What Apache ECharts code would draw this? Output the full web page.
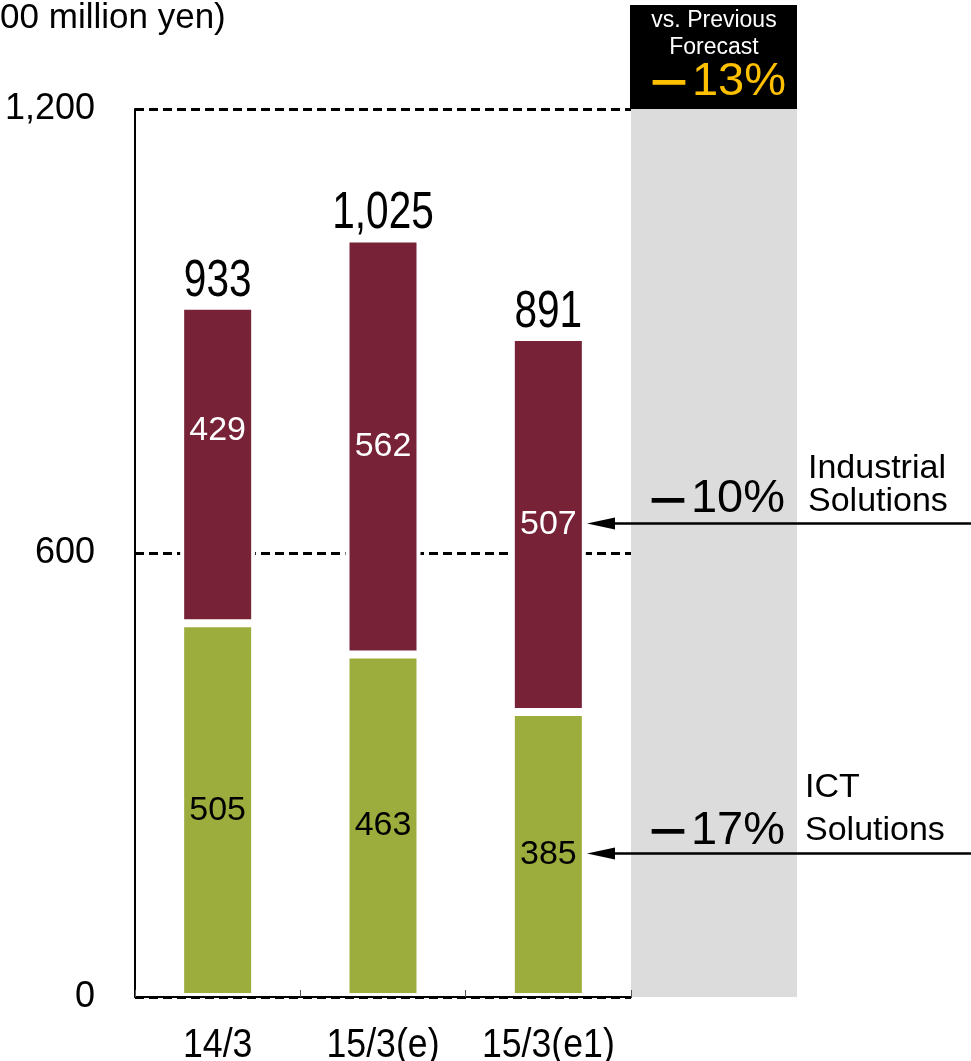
<!DOCTYPE html>
<html>
<head>
<meta charset="utf-8">
<script src="https://cdn.jsdelivr.net/npm/echarts@6/dist/echarts.min.js"></script>
<style>html,body{margin:0;padding:0;background:#fff}#c{width:971px;height:1061px}</style>
</head>
<body>
<div id="c"></div>
<script>
const categories = ['14/3', '15/3(e)', '15/3(e1)'];
const ictValues = [505, 463, 385];
const industrialValues = [429, 562, 507];
const totals = [933, 1025, 891];
const yTicks = [0, 600, 1200];
const changeIndustrial = '10%';
const changeICT = '17%';
const changeTotal = '13%';

const SANS = "'Liberation Sans', Arial, sans-serif";
const CJK = "'Noto Sans CJK JP', sans-serif";
const MAROON = '#772237';
const GREEN = '#9cad3d';

const chart = echarts.init(document.getElementById('c'));
chart.setOption({
  animation: false,
  grid: { left: 135, right: 340, top: 109, bottom: 64 },
  xAxis: {
    type: 'category',
    data: categories,
    axisLine: { show: true, lineStyle: { color: '#000', width: 2 } },
    axisTick: { show: true, inside: true, interval: 0, length: 7, lineStyle: { color: '#555', width: 1 } },
    axisLabel: { show: false, interval: 0 },
    z: 5
  },
  yAxis: {
    type: 'value',
    min: 0, max: 1200, interval: 600,
    axisLine: { show: true, lineStyle: { color: '#000', width: 2 } },
    axisTick: { show: false },
    axisLabel: {
      color: '#000', fontFamily: SANS, fontSize: 36, margin: 40,
      formatter: v => yTicks.includes(v) ? v.toLocaleString('en-US') : ''
    },
    splitLine: { show: true, lineStyle: { color: '#000', width: 3, type: [9, 5] } }
  },
  series: [
    {
      name: 'ICT Solutions', type: 'bar', stack: 'a', barWidth: 75,
      data: ictValues,
      itemStyle: { color: GREEN, borderColor: '#fff', borderWidth: 4 },
      label: { show: true, position: 'inside', color: '#000', fontFamily: SANS, fontSize: 34 },
      z: 3
    },
    {
      name: 'Industrial Solutions', type: 'bar', stack: 'a', barWidth: 75,
      data: industrialValues.map((v, i) => i === 0 ? { value: v, label: { offset: [0, -34] } } : v),
      itemStyle: { color: MAROON, borderColor: '#fff', borderWidth: 4 },
      label: { show: true, position: 'inside', color: '#fff', fontFamily: SANS, fontSize: 34 },
      z: 3
    }
  ]
});

const px = (i, v) => chart.convertToPixel({ gridIndex: 0 }, [i, v]);
const yInd = chart.convertToPixel({ yAxisIndex: 0 }, ictValues[2] + industrialValues[2] / 2);
const yIct = chart.convertToPixel({ yAxisIndex: 0 }, ictValues[2] / 2);
const yTop = chart.convertToPixel({ yAxisIndex: 0 }, 1200);
const yBot = chart.convertToPixel({ yAxisIndex: 0 }, 0);
const xRight = 631;

function arrow(y) {
  return [
    { type: 'line', shape: { x1: 971, y1: y, x2: 600, y2: y }, style: { stroke: '#000', lineWidth: 2.5 }, z: 10 },
    { type: 'polygon', shape: { points: [[587, y], [615, y - 6], [615, y + 6]] }, style: { fill: '#000' }, z: 10 }
  ];
}
function pct(text, x, y, color) {
  return {
    type: 'text', x: x, y: y, z: 11,
    style: {
      text: '{m|－}{n|' + text + '}', align: 'center', verticalAlign: 'middle',
      rich: {
        m: { fontFamily: CJK, fontWeight: 'bold', fontSize: 46, fill: color },
        n: { fontFamily: SANS, fontSize: 47, fill: color }
      }
    }
  };
}

const totalLabels = totals.map((t, i) => {
  const p = px(i, t);
  return {
    type: 'text', x: p[0], y: p[1] - 25, scaleX: 0.78, z: 10,
    style: { text: t.toLocaleString('en-US'), fill: '#000', fontFamily: SANS, fontSize: 52, align: 'center', verticalAlign: 'middle' }
  };
});
const catLabels = categories.map((c, i) => {
  const p = px(i, 0);
  return {
    type: 'text', x: p[0], y: p[1] + 49, scaleX: 0.87, z: 10,
    style: { text: c, fill: '#000', fontFamily: SANS, fontSize: 41, align: 'center', verticalAlign: 'middle' }
  };
});

chart.setOption({
  graphic: [
    { type: 'rect', shape: { x: xRight, y: yTop, width: 166, height: yBot - yTop }, style: { fill: '#dcdcdc' }, z: -10 },
    { type: 'rect', shape: { x: xRight - 1, y: 5, width: 167, height: yTop - 5 }, style: { fill: '#000' }, z: 10 },
    { type: 'text', x: 714, y: 21, z: 11, style: { text: 'vs. Previous', fill: '#fff', fontFamily: SANS, fontSize: 23, align: 'center', verticalAlign: 'middle' } },
    { type: 'text', x: 714, y: 48, z: 11, style: { text: 'Forecast', fill: '#fff', fontFamily: SANS, fontSize: 23, align: 'center', verticalAlign: 'middle' } },
    pct(changeTotal, 716, 82, '#ffc000'),
    { type: 'text', x: -31, y: 18, z: 11, style: { text: '(100 million yen)', fill: '#000', fontFamily: SANS, fontSize: 35, verticalAlign: 'middle' } },
    pct(changeIndustrial, 715, yInd - 25, '#000'),
    { type: 'text', x: 808, y: yInd - 56, z: 10, style: { text: 'Industrial', fill: '#000', fontFamily: SANS, fontSize: 34, verticalAlign: 'middle' } },
    { type: 'text', x: 808, y: yInd - 23, z: 10, style: { text: 'Solutions', fill: '#000', fontFamily: SANS, fontSize: 34, verticalAlign: 'middle' } },
    ...arrow(yInd - 1),
    pct(changeICT, 715, yIct - 24, '#000'),
    { type: 'text', x: 805, y: yIct - 67, z: 10, style: { text: 'ICT', fill: '#000', fontFamily: SANS, fontSize: 34, verticalAlign: 'middle' } },
    { type: 'text', x: 805, y: yIct - 24, z: 10, style: { text: 'Solutions', fill: '#000', fontFamily: SANS, fontSize: 34, verticalAlign: 'middle' } },
    ...arrow(yIct - 1),
    ...totalLabels,
    ...catLabels
  ]
});
</script>
</body>
</html>
